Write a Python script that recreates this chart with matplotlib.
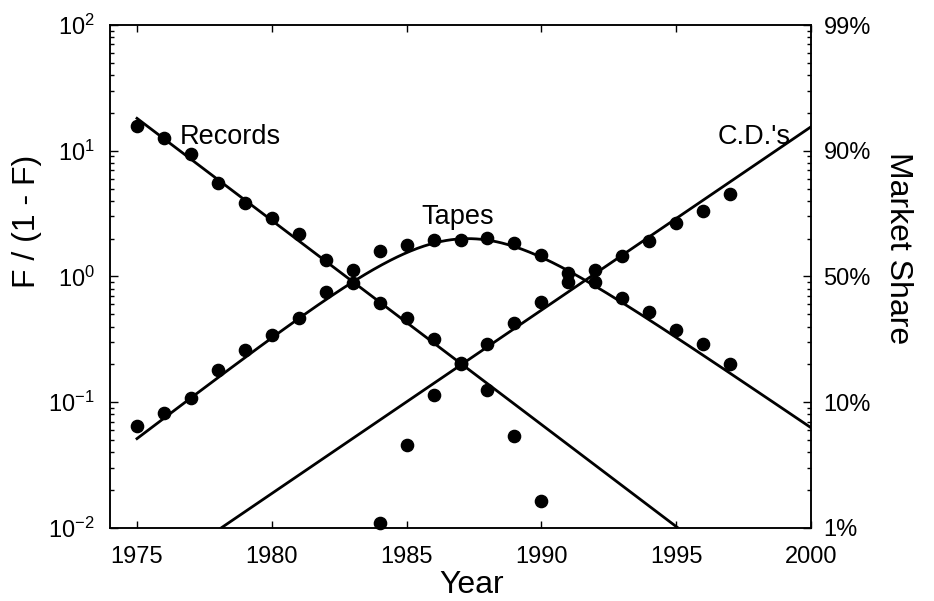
import numpy as np
import matplotlib
matplotlib.use("Agg")
import matplotlib.pyplot as plt
from matplotlib.ticker import LogLocator, FixedLocator, FixedFormatter, NullFormatter

plt.rcParams['font.family'] = ['Liberation Sans', 'DejaVu Sans']
plt.rcParams['mathtext.fontset'] = 'custom'
plt.rcParams['mathtext.rm'] = 'Liberation Sans'
plt.rcParams['mathtext.it'] = 'Liberation Sans:italic'

records_years = list(range(1975, 1991))
records = [15.7, 12.6, 9.4, 5.57, 3.86, 2.90, 2.16, 1.35, 0.89, 0.61,
           0.465, 0.316, 0.205, 0.124, 0.054, 0.0163]

tapes_years = list(range(1975, 1998))
tapes = [0.0647, 0.0817, 0.109, 0.18, 0.26, 0.343, 0.465, 0.75, 1.13, 1.6,
         1.78, 1.95, 1.96, 2.04, 1.86, 1.48, 1.07, 0.90, 0.68, 0.52,
         0.373, 0.29, 0.20]

cd_years = list(range(1984, 1998))
cds = [0.011, 0.046, 0.114, 0.20, 0.29, 0.43, 0.63, 0.91, 1.12, 1.46,
       1.91, 2.65, 3.34, 4.53]

# fitted logistic lines (straight on the log scale), end points
records_fit_years = [1975, 1995.07]
records_fit = [18.1, 0.01]
cd_fit_years = [1978.12, 2000]
cd_fit = [0.01, 15.5]

right_ticks = [1e-2, 1e-1, 1e0, 1e1, 1e2]
right_labels = ['1%', '10%', '50%', '90%', '99%']


def fit_ratio(t, years, vals):
    # log-linear between the two fitted end points
    lv = np.log10(vals)
    slope = (lv[1] - lv[0]) / (years[1] - years[0])
    return 10 ** (lv[0] + slope * (t - years[0]))


# tapes curve = what is left over by the two substitution fits
t = np.linspace(1975, 2000, 400)
r = fit_ratio(t, records_fit_years, records_fit)
c = fit_ratio(t, cd_fit_years, cd_fit)
f_tapes = 1 - r / (1 + r) - c / (1 + c)
tapes_curve = f_tapes / (1 - f_tapes)

fig = plt.figure(figsize=(9.34, 6.01), dpi=100)
ax = fig.add_axes([0.1178, 0.1215, 0.7505, 0.8369])

lw = 2.0
ax.plot(records_fit_years, records_fit, color='black', lw=lw)
ax.plot(cd_fit_years, cd_fit, color='black', lw=lw)
ax.plot(t, tapes_curve, color='black', lw=lw)

ms = 8.8
ax.plot(records_years, records, 'o', color='black', ms=ms, clip_on=False)
ax.plot(tapes_years, tapes, 'o', color='black', ms=ms, clip_on=False)
ax.plot(cd_years, cds, 'o', color='black', ms=ms, clip_on=False)

ax.set_yscale('log')
ax.set_xlim(1974, 2000)
ax.set_ylim(1e-2, 1e2)
ax.set_xticks([1975, 1980, 1985, 1990, 1995, 2000])
ax.yaxis.set_major_locator(LogLocator(base=10, numticks=10))
ax.yaxis.set_minor_locator(LogLocator(base=10, subs=np.arange(2, 10), numticks=10))
ax.yaxis.set_minor_formatter(NullFormatter())

ax.tick_params(axis='x', which='major', direction='in', top=True, length=5,
               width=1, labelsize=17, pad=13)
ax.tick_params(axis='y', which='major', direction='in', length=6, width=1,
               labelsize=17, pad=11)
ax.tick_params(axis='y', which='minor', direction='in', length=3, width=1)

ax2 = ax.twinx()
ax2.set_yscale('log')
ax2.set_ylim(1e-2, 1e2)
ax2.yaxis.set_major_locator(FixedLocator(right_ticks))
ax2.yaxis.set_major_formatter(FixedFormatter(right_labels))
ax2.yaxis.set_minor_locator(LogLocator(base=10, subs=np.arange(2, 10), numticks=10))
ax2.yaxis.set_minor_formatter(NullFormatter())
ax2.tick_params(axis='y', which='major', direction='in', length=6, width=1,
                labelsize=17, pad=9)
ax2.tick_params(axis='y', which='minor', direction='in', length=3, width=1)

for a in (ax, ax2):
    for s in a.spines.values():
        s.set_linewidth(1.1)

ax.text(1976.6, 12.9, 'Records', fontsize=19.5, ha='left', va='center')
ax.text(1986.9, 2.95, 'Tapes', fontsize=19.5, ha='center', va='center')
ax.text(1997.9, 12.9, "C.D.'s", fontsize=19.5, ha='center', va='center')

fig.text(472 / 934, 1 - 593 / 601, 'Year', fontsize=23, ha='center', va='baseline')
fig.text(27 / 934, 1 - 221 / 601, 'F / (1 - F)', fontsize=23, rotation=90,
         ha='center', va='center')
fig.text(898 / 934, 1 - 248 / 601, 'Market Share', fontsize=23, rotation=270,
         ha='center', va='center')

fig.savefig('out.png', dpi=100)
